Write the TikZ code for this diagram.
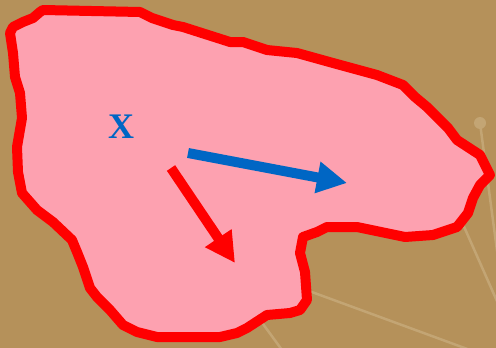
\documentclass[tikz,border=0pt]{standalone}
\usepackage{fontspec}
\setmainfont{Liberation Serif}
\usepackage{xcolor}
\usepackage{tikz}
\usetikzlibrary{arrows.meta}
\definecolor{ground}{RGB}{181,145,90}
\definecolor{trailc}{RGB}{195,165,116}
\definecolor{blobfill}{RGB}{253,161,176}
\definecolor{blobred}{RGB}{255,0,0}
\definecolor{flowblue}{RGB}{0,102,196}

\begin{document}
\begin{tikzpicture}[
x=1pt,y=-1pt,
trail/.style={trailc,line width=2.5pt},
blob/.style={draw=blobred,fill=blobfill,line width=10pt,line join=round},
arrow/.style={line width=10pt,-{Triangle[length=30pt,width=30pt]}},
label/.style={text=flowblue,font=\bfseries\fontsize{36}{36}\selectfont}
]
\fill[ground] (0,0) rectangle (496,348);
\useasboundingbox (0,0) rectangle (496,348);
\fill[trailc] (480,123) circle (6);
\draw[trail] (480,123)--(510,348);
\draw[trail] (450,195)--(508,326);
\draw[trail] (290,284)--(470,350);
\draw[trail] (255,313)--(282,350);
\draw[blob] (43,10)--(140,12)--(152,18)--(173,25)--(183,27)--(230,42)--(243,42)--(267,50)
 --(297,53)--(333,63)--(377,75)--(403,85)--(415,97)--(427,107)--(437,117)--(448,128)
 --(457,140)--(480,155)--(490,175)--(480,185)--(473,198)--(468,213)--(457,227)--(433,235)
 --(405,237)--(357,227)--(327,227)--(317,232)--(303,237)--(300,253)--(305,272)--(307,300)
 --(300,310)--(290,313)--(267,315)--(247,328)--(237,333)--(220,337)--(157,337)--(137,332)
 --(123,325)--(110,310)--(97,297)--(90,288)--(83,267)--(77,252)--(72,240)--(53,222)
 --(37,210)--(22,193)--(18,172)--(17,147)--(22,118)--(20,93)--(15,77)--(13,53)
 --(10,33)--(13,27)--(23,22)--(33,18)--(40,12)--cycle;
\node[label] (x) at (121,127) {X};
\coordinate (bluestart) at (188,153);
\coordinate (blueend) at (347,183);
\coordinate (redstart) at (171,168);
\coordinate (redend) at (235,263);
\draw[arrow,flowblue] (bluestart)--(blueend);
\draw[arrow,blobred] (redstart)--(redend);
\end{tikzpicture}
\end{document}
